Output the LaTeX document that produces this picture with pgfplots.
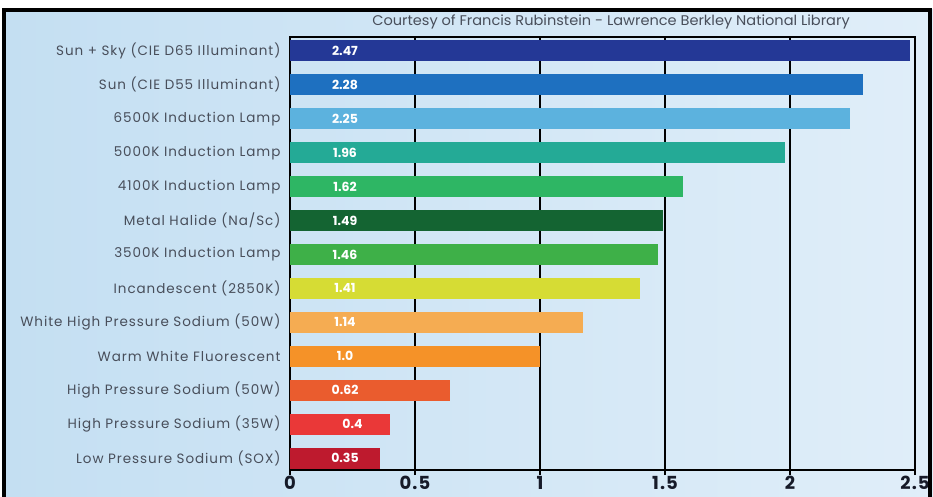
\documentclass[border=0pt]{standalone}
\usepackage{pgfplots}
\pgfplotsset{compat=1.18}
\usepackage{fontspec}
\setmainfont{Poppins}
\definecolor{bgL}{RGB}{196,223,242}
\definecolor{bgR}{RGB}{224,238,249}
\definecolor{lblgray}{RGB}{72,78,90}
\definecolor{tickcol}{RGB}{22,26,40}
\definecolor{c1}{RGB}{36,56,150}
\definecolor{c2}{RGB}{30,112,192}
\definecolor{c3}{RGB}{92,178,222}
\definecolor{c4}{RGB}{36,170,150}
\definecolor{c5}{RGB}{46,182,100}
\definecolor{c6}{RGB}{20,100,50}
\definecolor{c7}{RGB}{62,176,72}
\definecolor{c8}{RGB}{214,220,52}
\definecolor{c9}{RGB}{245,172,82}
\definecolor{c10}{RGB}{245,146,40}
\definecolor{c11}{RGB}{234,92,46}
\definecolor{c12}{RGB}{234,56,56}
\definecolor{c13}{RGB}{190,26,46}
\begin{document}
\begin{tikzpicture}[x=1pt,y=1pt]
\useasboundingbox (0,0) rectangle (933,497);
\shade[left color=bgL, right color=bgR] (4,-20) rectangle (933,487);
\node[text=lblgray, font=\fontsize{14}{15}\selectfont] at (611,475) {\scalebox{1.04}[1]{Courtesy of Francis Rubinstein - Lawrence Berkley National Library}};
\begin{axis}[
  at={(290pt,27pt)}, anchor=south west,
  scale only axis, width=625pt, height=433pt,
  xmin=0, xmax=2.5, ymin=-0.41, ymax=12.35, y dir=reverse,
  xtick={0,0.5,1,1.5,2,2.5}, xticklabels={0,0.5,1,1.5,2,2.5},
  ytick={0,...,12},
  yticklabels={Sun + Sky (CIE D65 Illuminant),Sun (CIE D55 Illuminant),6500K Induction Lamp,5000K Induction Lamp,4100K Induction Lamp,Metal Halide (Na/Sc),3500K Induction Lamp,Incandescent (2850K),White High Pressure Sodium (50W),Warm White Fluorescent,High Pressure Sodium (50W),High Pressure Sodium (35W),Low Pressure Sodium (SOX)},
  yticklabel style={text=lblgray, font=\fontsize{13.5}{14}\selectfont\mdseries\addfontfeatures{LetterSpace=7}, xshift=-1pt},
  xticklabel style={text=tickcol, font=\fontsize{18}{18}\selectfont\bfseries\addfontfeatures{LetterSpace=6}, yshift=2pt},
  xmajorgrids, grid style={black, line width=2.6pt},
  axis line style={black, line width=2.6pt},
  xtick pos=lower, tick align=outside, major tick length=5pt,
  xtick style={black, line width=2pt},
  ytick style={draw=none},
  xbar, bar width=21pt, bar shift=0pt,
  every axis plot/.append style={draw=none, bar shift=0pt},
  clip=false,
]
\addplot[fill=c1] coordinates {(2.48,0)};
\addplot[fill=c2] coordinates {(2.29,1)};
\addplot[fill=c3] coordinates {(2.24,2)};
\addplot[fill=c4] coordinates {(1.98,3)};
\addplot[fill=c5] coordinates {(1.57,4)};
\addplot[fill=c6] coordinates {(1.49,5)};
\addplot[fill=c7] coordinates {(1.47,6)};
\addplot[fill=c8] coordinates {(1.40,7)};
\addplot[fill=c9] coordinates {(1.17,8)};
\addplot[fill=c10] coordinates {(1.00,9)};
\addplot[fill=c11] coordinates {(0.64,10)};
\addplot[fill=c12] coordinates {(0.40,11)};
\addplot[fill=c13] coordinates {(0.36,12)};
\begin{scope}[every node/.style={text=white, font=\fontsize{12.5}{13}\selectfont\bfseries}]
\node at (axis cs:0.22,0) {2.47};
\node at (axis cs:0.22,1) {2.28};
\node at (axis cs:0.22,2) {2.25};
\node at (axis cs:0.22,3) {1.96};
\node at (axis cs:0.22,4) {1.62};
\node at (axis cs:0.22,5) {1.49};
\node at (axis cs:0.22,6) {1.46};
\node at (axis cs:0.22,7) {1.41};
\node at (axis cs:0.22,8) {1.14};
\node at (axis cs:0.22,9) {1.0};
\node at (axis cs:0.22,10) {0.62};
\node at (axis cs:0.25,11) {0.4};
\node at (axis cs:0.22,12) {0.35};
\end{scope}
\end{axis}
\draw[line width=4pt, black] (4,-20) -- (4,487) -- (930,487) -- (930,-20);
\end{tikzpicture}
\end{document}
